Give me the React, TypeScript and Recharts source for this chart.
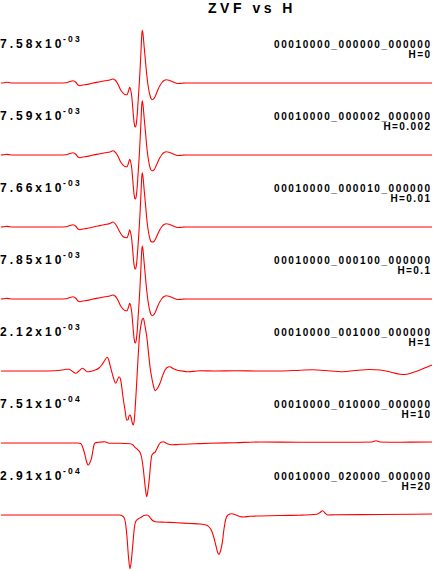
/* ZVF vs H — stacked normalised traces, one LineChart per H value */
import { LineChart, Line, XAxis, YAxis } from 'recharts';

type Pt = [number, number];

// t in samples (0..433), amplitude in relative units (each trace normalised)
const trH0: Pt[] = [
  [1, 0], [4, 0.3], [7, 0.7], [10, 0.2], [13, 0], [60, 0], [66, 0.3], [70, 1.5], [73, 2.3], [76, 0.5],
  [78, -2], [80, -2.7], [83, -2], [86, -1.6], [90, -0.8], [95, 0.4], [100, 1.2], [105, 2.2], [110, 3],
  [113, 4], [115, 3], [117, 0.5], [119, -3.5], [121, -7.5], [123, -10], [125, -11.5], [127, -11.7],
  [128.5, -8], [129.7, -4.4], [130.7, -7], [131.7, -13], [132.7, -24], [133.7, -36], [134.7, -43],
  [135.5, -44], [136.3, -41], [137.2, -32], [138, -20], [139, -5], [140, 12], [141, 32], [141.7, 47],
  [142.3, 52.6], [143, 49], [144, 38], [145, 27], [146, 16], [147, 6], [148, -2], [149, -8], [150, -12.5],
  [151, -15.5], [152.3, -16.7], [154, -15.5], [156, -11.5], [158, -6.5], [160, -2.5], [162, 0.5],
  [164, 2.5], [166.5, 3.3], [169, 2.8], [172, 1.5], [175, 0.3], [178, -0.5], [182, -0.2], [186, 0],
  [343, 0], [432, 0],
];
const trH0002: Pt[] = [
  [1, 0], [4, 0.3], [7, 0.6], [10, 0.2], [13, 0], [60, 0], [66, 0.3], [70, 1.5], [73, 2.3], [76, 0.5],
  [78, -2], [80, -2.7], [83, -2], [86, -1.6], [90, -0.8], [95, 0.4], [100, 1.2], [105, 2.2], [110, 3],
  [113, 4.2], [115, 3], [117, 0.5], [119, -3.5], [121, -7.5], [123, -10], [125, -11.5], [127, -11.7],
  [128.5, -8], [129.7, -4.3], [130.7, -7], [131.7, -13], [132.7, -24], [133.7, -36], [134.7, -43],
  [135.5, -44], [136.3, -41], [137.2, -32], [138, -20], [139, -5], [140, 13], [141, 34], [141.7, 49],
  [142.3, 54.3], [143, 50], [144, 39], [145, 28], [146, 17], [147, 6], [148, -2], [149, -8], [150, -12.5],
  [151, -15], [152.3, -15.7], [154, -15], [156, -11], [158, -6.5], [160, -2.5], [162, 0.5],
  [164, 2.5], [166.5, 3.3], [169, 2.8], [172, 1.5], [175, 0.3], [178, -0.5], [182, -0.2], [186, 0],
  [432, 0],
];
const trH001: Pt[] = [
  [1, 0], [4, 0.3], [7, 0.6], [10, 0.2], [13, 0], [60, 0], [66, 0.3], [70, 1.5], [73, 2.3], [76, 0.5],
  [78, -2], [80, -2.7], [83, -2], [86, -1.6], [90, -0.8], [95, 0.5], [100, 1.4], [105, 2.5], [110, 3.5],
  [113, 5], [115, 3.5], [117, 0.5], [119, -3.5], [121, -7], [123, -9.5], [125, -10.5], [127, -10.7],
  [128.5, -7], [129.7, -2.7], [130.7, -6], [131.7, -12], [132.7, -23], [133.7, -35], [134.7, -41],
  [135.5, -42], [136.3, -39], [137.2, -30], [138, -19], [139, -4], [140, 13], [141, 34], [141.7, 49],
  [142.3, 54.3], [143, 50], [144, 39], [145, 28], [146, 17], [147, 6], [148, -2], [149, -8], [150, -12],
  [151, -14.5], [152.3, -15], [154, -14.5], [156, -11], [158, -6.5], [160, -2.5], [162, 0.5],
  [164, 2.5], [166.5, 3.3], [169, 2.8], [172, 1.5], [175, 0.3], [178, -0.5], [182, -0.2], [186, 0],
  [432, 0],
];
const trH01: Pt[] = [
  [1, 0], [4, 0.3], [7, 0.6], [10, 0.2], [13, 0], [60, 0], [66, 0.3], [70, 1.5], [73, 2.3], [76, 0.5],
  [78, -2], [80, -2.7], [83, -2], [86, -1.6], [90, -0.8], [95, 0.4], [100, 1.2], [105, 2.2], [110, 3],
  [113, 4], [115, 3], [117, 0.5], [119, -3.5], [121, -7.5], [123, -10], [125, -11.5], [127, -11.7],
  [128.5, -8], [129.7, -4.4], [130.7, -7], [131.7, -13], [132.7, -24], [133.7, -36], [134.7, -43],
  [135.5, -44], [136.3, -41], [137.2, -32], [138, -20], [139, -5], [140, 12], [141, 33], [141.7, 48],
  [142.3, 53], [143, 49], [144, 38], [145, 27], [146, 16], [147, 6], [148, -2], [149, -8], [150, -12.5],
  [151, -15.5], [152.3, -16.7], [154, -15.5], [156, -11.5], [158, -6.5], [160, -2.5], [162, 0.5],
  [164, 2.5], [166.5, 3.3], [169, 2.8], [172, 1.5], [175, 0.3], [178, -0.5], [182, -0.2], [186, 0],
  [432, 0],
];
const trH1: Pt[] = [
  [1, 0], [40, 0], [55, 0.3], [62, 1], [66, 1.7], [69, 1.7], [72, 0], [75.7, -2.3], [79, 0], [82.3, 2.7],
  [85, 1], [87, -0.7], [90, -0.5], [95, 1], [99, 3], [101.7, 6], [104, 9.5], [107.3, 13.7], [109, 10],
  [110.5, 4], [111.7, -0.7], [113.5, -7], [115.7, -12.3], [117, -10], [119, -5.7], [120.5, -8],
  [121.7, -15.7], [123, -26], [125, -39], [126.7, -49], [128, -49], [129, -45], [130, -44], [131, -46],
  [132.3, -52], [133.3, -54], [134.3, -49], [135, -40], [136.5, -15], [138, 12], [139.5, 35], [141, 46],
  [142.2, 51.5], [143.3, 52.7], [144.5, 48], [145.7, 41], [146.7, 35], [148.5, 18], [150, 4.3],
  [152, -8], [153.5, -15], [155, -19.7], [157, -18], [160, -12.3], [162.5, -5], [165, 1], [168, 4],
  [170, 4.3], [173, 2.5], [176.7, 1], [182, 0], [188, -0.7], [195, -0.2], [200, 0.3], [215, 0],
  [235, 0.3], [260, 0], [280, 0], [300, 0.8], [313, 1.3], [325, 0.5], [343, -0.7], [355, 0.5],
  [370, 1.5], [380, 1], [392, -1.5], [400, -3.2], [405, -3.5], [410, -2.5], [416, -0.5], [420, 1],
  [426, 3.5], [432, 6],
];
const trH10: Pt[] = [
  [1, 0], [78, 0], [80.7, -0.5], [82, -2.5], [83.3, -6], [85, -12], [86.5, -18.5], [88.3, -22],
  [90, -19.5], [91.7, -14.3], [93, -7], [94, -2], [95, 0], [98.3, 0.7], [102, 1], [105, 1.3], [107, 0.5],
  [110, -0.3], [120, -0.3], [130, -0.7], [133, -2], [135, -4.3], [137.5, -6.5], [140, -9.3],
  [141.5, -14], [143.3, -26], [145, -42], [146.7, -53.7], [148, -47], [149.3, -36], [150.5, -22],
  [151.7, -12.7], [153, -10.5], [155, -9.3], [157, -5.5], [159.3, -1], [161, 0.8], [163.3, 1.3],
  [166, 0], [168, -1], [171.7, -1.7], [176, -1.6], [180, -1.3], [195, -0.8], [210, -0.3], [235, 0.3],
  [260, 1], [300, 0.7], [333, 0.7], [360, 0.8], [372, 1], [376, 2.3], [380, 1], [400, 0.8], [432, 1],
];
const trH20: Pt[] = [
  [1, 0], [120, 0], [122, -0.8], [124, -2.5], [125.5, -8], [127, -22], [128.5, -42], [130, -53.7],
  [131.3, -46], [132.7, -31], [134, -16], [135, -9], [136, -6], [138, -4], [141.7, -2], [144, -0.5],
  [147.3, 0], [150, -2.5], [152, -5], [155, -6.7], [165, -7.2], [176.7, -7.7], [190, -8.5], [200, -9],
  [206.7, -10.3], [209.5, -12.5], [211.7, -16], [214, -23], [216, -31], [217.5, -37], [219, -39.3],
  [220.5, -36], [222.3, -27.7], [224, -14], [225.7, -4.3], [228, 0], [231.7, 1.3], [236, 0],
  [240, -1.5], [243.3, -2], [250, -1.3], [260, -1], [280, -0.5], [300, -0.2], [316.7, 0.7], [320, 2.5],
  [322.7, 4.3], [325, 2], [328, 0], [335, 0.3], [380, 0.5], [432, 1],
];

const traces = [trH0, trH0002, trH001, trH01, trH1, trH10, trH20];
const ampMant = ['7.58', '7.59', '7.66', '7.85', '2.12', '7.51', '2.91'];
const ampExp = ['-03', '-03', '-03', '-03', '-03', '-04', '-04'];
const codes = [
  '00010000_000000_000000', '00010000_000002_000000', '00010000_000010_000000',
  '00010000_000100_000000', '00010000_001000_000000', '00010000_010000_000000',
  '00010000_020000_000000',
];
const hValues = ['0', '0.002', '0.01', '0.1', '1', '10', '20'];

const W = 433;
const H = 571;
const FIRST_BASE = 83;
const STEP = 72;
const HALF = 60;
const FONT = '"Liberation Sans", Arial, sans-serif';

export default function App() {
  return (
    <div style={{ position: 'absolute', left: 0, top: 0, width: W, height: H, background: '#fff', overflow: 'hidden' }}>
      {traces.map((tr, i) => (
        <div key={i} style={{ position: 'absolute', left: 0, top: FIRST_BASE + i * STEP - HALF }}>
          <LineChart width={W} height={HALF * 2} data={tr.map(([t, a]) => ({ t, a }))}
            margin={{ top: 0, right: 0, bottom: 0, left: 0 }}>
            <XAxis type="number" dataKey="t" domain={[0, 433]} allowDataOverflow hide />
            <YAxis type="number" domain={[-HALF, HALF]} allowDataOverflow hide />
            <Line type="monotone" dataKey="a" stroke="#ff0000" strokeWidth={1.1}
              dot={false} activeDot={false} isAnimationActive={false} />
          </LineChart>
        </div>
      ))}
      <svg width={W} height={H} style={{ position: 'absolute', left: 0, top: 0, pointerEvents: 'none' }}>
        <text x={252} y={12.7} textAnchor="middle" fontFamily={FONT} fontWeight="bold" fontSize={14}
          style={{ letterSpacing: 3.5 }}>ZVF vs H</text>
        {traces.map((_, i) => {
          const base = FIRST_BASE + i * STEP;
          return (
            <g key={i} fontFamily={FONT} fontWeight="bold" fill="#000">
              <text x={0} y={base - 35.5} fontSize={12} style={{ letterSpacing: 3 }}>{ampMant[i]}x10</text>
              <text x={63} y={base - 41.5} fontSize={8.5} style={{ letterSpacing: 2.2 }}>{ampExp[i]}</text>
              <text x={431.6} y={base - 35.5} fontSize={10} textAnchor="end" style={{ letterSpacing: 1.6 }}>{codes[i]}</text>
              <text x={431.4} y={base - 25} fontSize={10} textAnchor="end" style={{ letterSpacing: 1.4 }}>H={hValues[i]}</text>
            </g>
          );
        })}
      </svg>
    </div>
  );
}
